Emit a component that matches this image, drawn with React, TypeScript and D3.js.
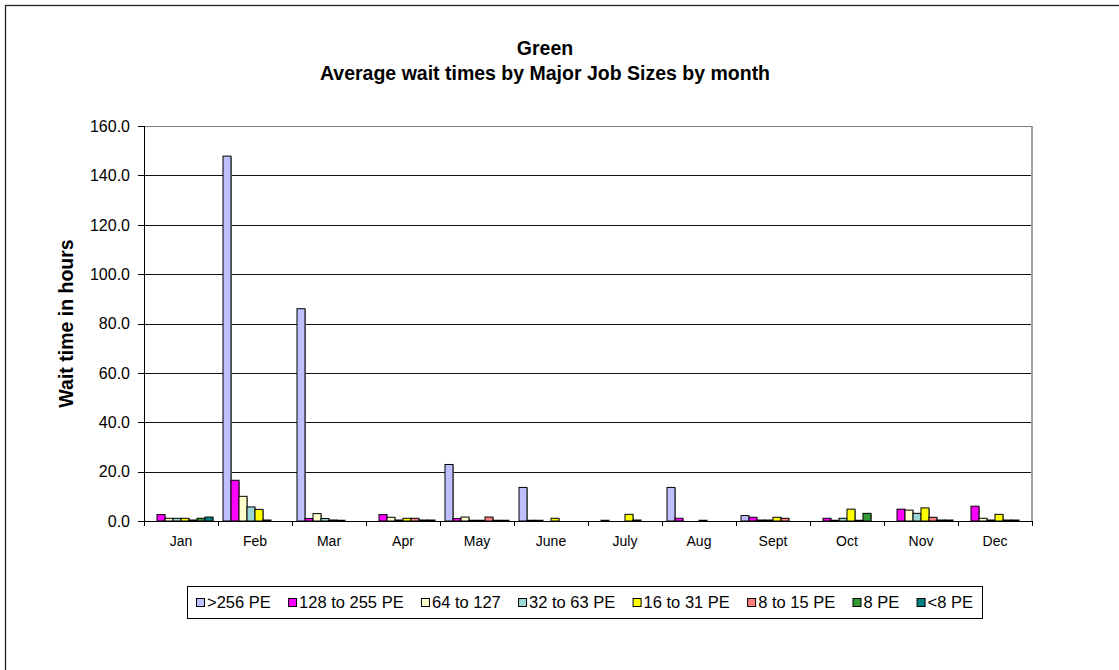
import React, { useEffect, useRef } from 'react';
import * as d3 from 'd3';

const months = ['Jan', 'Feb', 'Mar', 'Apr', 'May', 'June', 'July', 'Aug', 'Sept', 'Oct', 'Nov', 'Dec'];
const seriesNames = ['>256 PE', '128 to 255 PE', '64 to 127', '32 to 63 PE', '16 to 31 PE', '8 to 15 PE', '8 PE', '<8 PE'];
const seriesColors = ['#BFBFFF', '#FF00FF', '#FFFFCC', '#9AD6D6', '#FFFF00', '#FF8080', '#339933', '#008080'];

// one row per month, one value per series (hours)
const waitHours = [
  [0, 2.6, 1.1, 1.1, 1.1, 0.4, 1.1, 1.6],
  [147.8, 16.5, 10.0, 5.7, 4.7, 0.4, 0, 0],
  [86.0, 1.0, 3.0, 1.0, 0.4, 0.3, 0, 0],
  [0, 2.6, 1.5, 0.4, 1.1, 1.1, 0.4, 0.4],
  [22.9, 1.0, 1.6, 0.3, 0.3, 1.6, 0.3, 0.3],
  [13.6, 0.3, 0.3, 0, 1.1, 0, 0, 0],
  [0, 0.3, 0, 0, 2.7, 0.4, 0, 0],
  [13.6, 1.1, 0, 0, 0.3, 0, 0, 0],
  [2.2, 1.5, 0.4, 0.4, 1.5, 1.1, 0, 0],
  [0, 1.1, 0.3, 1.1, 4.8, 0.3, 3.1, 0],
  [0, 4.8, 4.4, 3.1, 5.3, 1.5, 0.4, 0.4],
  [0, 6.0, 1.1, 0.4, 2.7, 0.4, 0.4, 0],
];
const yTicks = [0, 20, 40, 60, 80, 100, 120, 140, 160];

const W = 1119;
const H = 670;
const plot = { left: 144, right: 1032, top: 126, bottom: 521 };

const App: React.FC = () => {
  const svgRef = useRef<SVGSVGElement>(null);

  useEffect(() => {
    if (!svgRef.current) return;
    const svg = d3.select(svgRef.current);
    svg.selectAll('*').remove();

    const font = 'Arial, "Liberation Sans", Helvetica, sans-serif';

    // outer chart frame
    svg.append('rect')
      .attr('x', 5.5).attr('y', 5.5)
      .attr('width', 1200).attr('height', 700)
      .attr('fill', '#fff')
      .attr('stroke', '#222').attr('stroke-width', 1.3);

    const x = d3.scaleBand<string>().domain(months).range([plot.left, plot.right]).paddingInner(0).paddingOuter(0);
    const xs = d3.scaleBand<number>().domain(d3.range(seriesNames.length)).range([0, x.bandwidth()]).paddingInner(0).paddingOuter(0.625);
    const y = d3.scaleLinear().domain([0, 160]).range([plot.bottom, plot.top]);

    // gridlines
    svg.append('g')
      .selectAll('line')
      .data(yTicks.filter(t => t > 0 && t < 160))
      .join('line')
      .attr('x1', plot.left).attr('x2', plot.right)
      .attr('y1', d => Math.round(y(d)) + 0.5).attr('y2', d => Math.round(y(d)) + 0.5)
      .attr('stroke', '#111').attr('stroke-width', 1);

    // plot border top/right (grey)
    svg.append('line')
      .attr('x1', plot.left).attr('x2', plot.right)
      .attr('y1', plot.top + 0.5).attr('y2', plot.top + 0.5)
      .attr('stroke', '#808080').attr('stroke-width', 1.2);
    svg.append('line')
      .attr('x1', plot.right).attr('x2', plot.right)
      .attr('y1', plot.top).attr('y2', plot.bottom)
      .attr('stroke', '#A0A0A0').attr('stroke-width', 2);

    // bars
    const groups = svg.append('g')
      .selectAll('g')
      .data(waitHours)
      .join('g')
      .attr('transform', (_, i) => `translate(${x(months[i])},0)`);

    const bars = groups.selectAll('g')
      .data(row => row.map((v, s) => ({ v, s })).filter(d => d.v > 0))
      .join('g');

    bars.append('rect')
      .attr('x', d => xs(d.s)! + 1)
      .attr('y', d => y(d.v) + 1)
      .attr('width', xs.bandwidth())
      .attr('height', d => plot.bottom - y(d.v))
      .attr('fill', '#9a9a9a');

    bars.append('rect')
      .attr('x', d => xs(d.s)!)
      .attr('y', d => y(d.v))
      .attr('width', xs.bandwidth())
      .attr('height', d => plot.bottom - y(d.v))
      .attr('fill', d => seriesColors[d.s])
      .attr('stroke', '#000').attr('stroke-width', 1);

    // axes
    svg.append('line')
      .attr('x1', plot.left + 0.5).attr('x2', plot.left + 0.5)
      .attr('y1', plot.top).attr('y2', plot.bottom + 5)
      .attr('stroke', '#000');
    svg.append('line')
      .attr('x1', plot.left - 6).attr('x2', plot.right)
      .attr('y1', plot.bottom + 0.5).attr('y2', plot.bottom + 0.5)
      .attr('stroke', '#000');

    // y ticks + labels
    svg.append('g')
      .selectAll('line')
      .data(yTicks)
      .join('line')
      .attr('x1', plot.left - 6).attr('x2', plot.left)
      .attr('y1', d => Math.round(y(d)) + 0.5).attr('y2', d => Math.round(y(d)) + 0.5)
      .attr('stroke', '#000');
    svg.append('g')
      .selectAll('text')
      .data(yTicks)
      .join('text')
      .attr('x', 130)
      .attr('y', d => y(d))
      .attr('dy', '0.36em')
      .attr('text-anchor', 'end')
      .attr('font-family', font).attr('font-size', 16)
      .attr('fill', '#000')
      .text(d => d3.format('.1f')(d));

    // x ticks at category boundaries
    const bounds = months.map(m => x(m)!).concat([plot.right]);
    svg.append('g')
      .selectAll('line')
      .data(bounds)
      .join('line')
      .attr('x1', d => Math.round(d) + 0.5).attr('x2', d => Math.round(d) + 0.5)
      .attr('y1', plot.bottom).attr('y2', plot.bottom + 5)
      .attr('stroke', '#000');
    svg.append('g')
      .selectAll('text')
      .data(months)
      .join('text')
      .attr('x', d => x(d)! + x.bandwidth() / 2)
      .attr('y', 546)
      .attr('text-anchor', 'middle')
      .attr('font-family', font).attr('font-size', 14)
      .text(d => d);

    // titles
    svg.append('text')
      .attr('x', 545).attr('y', 55)
      .attr('text-anchor', 'middle')
      .attr('font-family', font).attr('font-size', 19.5).attr('font-weight', 'bold')
      .text('Green');
    svg.append('text')
      .attr('x', 545).attr('y', 80)
      .attr('text-anchor', 'middle')
      .attr('font-family', font).attr('font-size', 19.5).attr('font-weight', 'bold')
      .text('Average wait times by Major Job Sizes by month');
    svg.append('text')
      .attr('transform', `translate(73,${(plot.top + plot.bottom) / 2}) rotate(-90)`)
      .attr('text-anchor', 'middle')
      .attr('font-family', font).attr('font-size', 19.5).attr('font-weight', 'bold')
      .text('Wait time in hours');

    // legend
    const box = { x: 187, y: 586, w: 795, h: 32 };
    svg.append('rect')
      .attr('x', box.x + 0.5).attr('y', box.y + 0.5)
      .attr('width', box.w).attr('height', box.h)
      .attr('fill', '#fff').attr('stroke', '#000');

    const leg = svg.append('g');
    const items = leg.selectAll('g')
      .data(seriesNames)
      .join('g');
    items.append('rect')
      .attr('width', 8).attr('height', 8)
      .attr('y', box.y + 12.5)
      .attr('fill', (_, i) => seriesColors[i])
      .attr('stroke', '#000');
    const texts = items.append('text')
      .attr('y', box.y + 22)
      .attr('font-family', font).attr('font-size', 16.5)
      .text(d => d);

    const widths: number[] = [];
    texts.each(function () { widths.push((this as SVGTextElement).getComputedTextLength()); });
    const itemW = widths.map(w => 8 + 3 + w);
    const inner = box.w - 18;
    const gap = (inner - d3.sum(itemW)) / (seriesNames.length - 1);
    let cx = box.x + 9;
    items.each(function (_, i) {
      const g = d3.select(this);
      g.select('rect').attr('x', cx + 0.5);
      g.select('text').attr('x', cx + 11);
      cx += itemW[i] + gap;
    });
  }, []);

  return (
    <svg ref={svgRef} width={W} height={H} style={{ position: 'absolute', left: 0, top: 0, background: '#fff' }} />
  );
};

export default App;
